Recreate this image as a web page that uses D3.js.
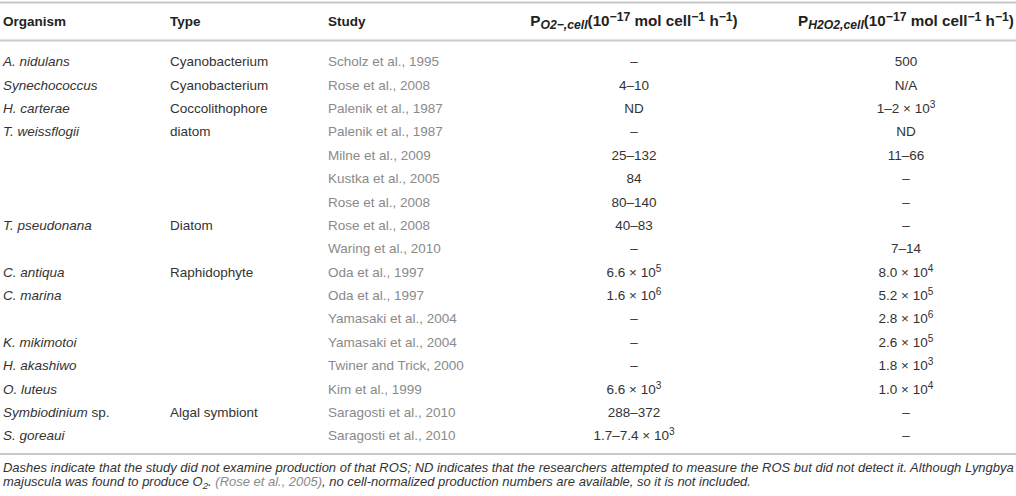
<!DOCTYPE html>
<html>
<head>
<meta charset="utf-8">
<script src="https://cdn.jsdelivr.net/npm/d3@7"></script>
<style>
  body { margin: 0; background: #fff; }
  svg { display: block; font-family: "Liberation Sans", Arial, sans-serif; }
</style>
</head>
<body>
<svg id="chart" width="1016" height="496"></svg>
<script>
// table content, one entry per row ("" = blank cell)
const organisms = ["A. nidulans", "Synechococcus", "H. carterae", "T. weissflogii", "", "", "",
  "T. pseudonana", "", "C. antiqua", "C. marina", "", "K. mikimotoi", "H. akashiwo", "O. luteus",
  "Symbiodinium| sp.", "S. goreaui"];
const types = ["Cyanobacterium", "Cyanobacterium", "Coccolithophore", "diatom", "", "", "",
  "Diatom", "", "Raphidophyte", "", "", "", "", "", "Algal symbiont", ""];
const studies = ["Scholz et al., 1995", "Rose et al., 2008", "Palenik et al., 1987", "Palenik et al., 1987",
  "Milne et al., 2009", "Kustka et al., 2005", "Rose et al., 2008", "Rose et al., 2008",
  "Waring et al., 2010", "Oda et al., 1997", "Oda et al., 1997", "Yamasaki et al., 2004",
  "Yamasaki et al., 2004", "Twiner and Trick, 2000", "Kim et al., 1999", "Saragosti et al., 2010",
  "Saragosti et al., 2010"];
const o2Values = ["–", "4–10", "ND", "–", "25–132", "84", "80–140", "40–83", "–", "6.6 × 10^5",
  "1.6 × 10^6", "–", "–", "–", "6.6 × 10^3", "288–372", "1.7–7.4 × 10^3"];
const h2o2Values = ["500", "N/A", "1–2 × 10^3", "ND", "11–66", "–", "–", "–", "7–14", "8.0 × 10^4",
  "5.2 × 10^5", "2.8 × 10^6", "2.6 × 10^5", "1.8 × 10^3", "1.0 × 10^4", "–", "–"];

const headers = ["Organism", "Type", "Study"];
const o2Header = [["P"], ["O2−,cell", "sub"], ["(10"], ["−17", "sup"], [" mol cell"], ["−1", "sup"], [" h"], ["−1", "sup"], [")"]];
const h2o2Header = [["P"], ["H2O2,cell", "sub"], ["(10"], ["−17", "sup"], [" mol cell"], ["−1", "sup"], [" h"], ["−1", "sup"], [")"]];

const footLine1 = [["Dashes indicate that the study did not examine production of that ROS; ND indicates that the researchers attempted to measure the ROS but did not detect it. Although Lyngbya"]];
const footLine2 = [["majuscula was found to produce O"], ["2", "sub"], [". "], ["(Rose et al., 2005)", "cite"], [", no cell-normalized production numbers are available, so it is not included."]];

const svg = d3.select('#chart');
const width = +svg.attr('width');

const ink = '#333';
const grey = '#8a8a8a';
const rule = '#c9c9c9';
const fontSize = 13.5;

const y = d3.scalePoint().domain(d3.range(organisms.length)).range([61.5, 435.5]);

// horizontal rules
svg.selectAll('line.rule').data([2.5, 40.5, 454]).join('line')
  .attr('class', 'rule')
  .attr('x1', 0).attr('x2', width)
  .attr('y1', d => d).attr('y2', d => d)
  .attr('stroke', rule).attr('stroke-width', 2);

// writes text pieces with sub / sup tspans
const writeSegments = (text, segs, ratio) => {
  let shift = 0;
  segs.forEach(([t, kind]) => {
    const target = kind === 'sub' ? 3 : kind === 'sup' ? -5 : 0;
    const ts = text.append('tspan').text(t).attr('dy', target - shift);
    if (kind === 'sub' || kind === 'sup') ts.attr('font-size', ratio + 'em');
    if (kind === 'sub' && t !== '2') ts.attr('font-style', 'italic');
    if (kind === 'cite') ts.attr('fill', grey);
    shift = target;
  });
};

// header
const hy = 26;
const headerG = svg.append('g').attr('font-weight', 'bold').attr('fill', '#222').attr('font-size', fontSize);
headerG.selectAll('text.h').data(headers).join('text')
  .attr('class', 'h')
  .attr('x', (d, i) => [3, 170, 328][i])
  .attr('y', hy)
  .text(d => d);
const hO2 = headerG.append('text').attr('x', 634).attr('y', hy).attr('text-anchor', 'middle');
writeSegments(hO2, o2Header, 0.8);
const hH2O2 = headerG.append('text').attr('x', 906).attr('y', hy).attr('text-anchor', 'middle');
writeSegments(hH2O2, h2o2Header, 0.8);
// the measure headers are set a little larger, to span ~216px
const hSize = fontSize * 216 / hH2O2.node().getComputedTextLength();
hO2.attr('font-size', hSize);
hH2O2.attr('font-size', hSize);

// body rows
const body = svg.append('g').attr('font-size', fontSize).attr('fill', ink);
const base = 4.8;

body.selectAll('text.org').data(organisms).join('text')
  .attr('class', 'org')
  .attr('x', 3)
  .attr('y', (d, i) => y(i) + base)
  .each(function (d) {
    const [name, rest] = d.split('|');
    d3.select(this).append('tspan').attr('font-style', 'italic').text(name);
    if (rest) d3.select(this).append('tspan').text(rest);
  });

body.selectAll('text.type').data(types).join('text')
  .attr('class', 'type')
  .attr('x', 170)
  .attr('y', (d, i) => y(i) + base)
  .text(d => d);

body.selectAll('text.study').data(studies).join('text')
  .attr('class', 'study')
  .attr('x', 328)
  .attr('y', (d, i) => y(i) + base)
  .attr('fill', grey)
  .text(d => d);

const valueCell = (cls, values, cx) => {
  body.selectAll('text.' + cls).data(values).join('text')
    .attr('class', cls)
    .attr('x', cx)
    .attr('y', (d, i) => y(i) + base)
    .attr('text-anchor', 'middle')
    .each(function (d) {
      const [main, exp] = d.split('^');
      const segs = [[main]];
      if (exp) segs.push([exp, 'sup']);
      writeSegments(d3.select(this), segs, 0.75);
    });
};
valueCell('o2', o2Values, 634);
valueCell('h2o2', h2o2Values, 906);

// footnote, scaled so the first line fills the width
const foot = svg.append('g').attr('font-style', 'italic').attr('fill', ink);
let footSize = 11.5;
const f1 = foot.append('text').attr('x', 3).attr('y', 472).attr('font-size', footSize);
writeSegments(f1, footLine1, 0.75);
footSize = footSize * 1012 / f1.node().getComputedTextLength();
f1.attr('font-size', footSize);
const f2 = foot.append('text').attr('x', 3).attr('y', 486).attr('font-size', footSize);
writeSegments(f2, footLine2, 0.75);
</script>
</body>
</html>
